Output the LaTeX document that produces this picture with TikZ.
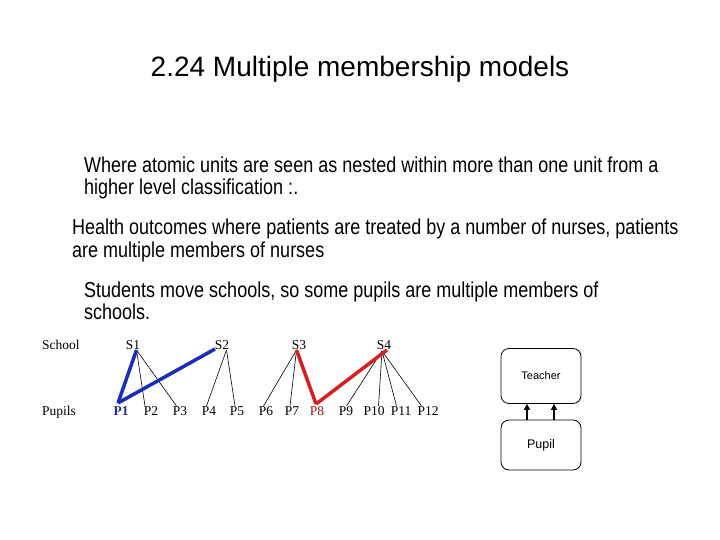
\documentclass[tikz,border=0pt]{standalone}
\usepackage{fontspec}
\setmainfont{Liberation Serif}
\newfontfamily\arialf{Liberation Sans}
\usetikzlibrary{arrows.meta}
\definecolor{tblue}{RGB}{25,45,185}
\definecolor{tred}{RGB}{215,30,35}
\definecolor{pblue}{RGB}{30,50,140}
\definecolor{pred}{RGB}{160,25,25}
\newcommand{\tallline}[1]{\scalebox{1}[1.2]{#1}}
\begin{document}
\begin{tikzpicture}[x=1pt,y=-1pt,
  para/.style={anchor=base west,inner sep=0,font=\arialf\fontsize{18}{22}\selectfont},
  lvl/.style={anchor=base west,inner sep=0,font=\fontsize{13.5}{15}\selectfont},
  lab/.style={anchor=base,inner sep=0,font=\fontsize{13.5}{15}\selectfont},
  thin/.style={black,line width=0.6pt},
  blueln/.style={tblue,line width=3.5pt},
  redln/.style={tred,line width=3.5pt},
  rbox/.style={draw,rounded corners=8pt,line width=0.8pt,minimum width=80pt,inner sep=0},
  arr/.style={line width=2pt,-{Triangle[length=6pt,width=6pt]}}]
\useasboundingbox (0,0) rectangle (720,540);
\node[anchor=base,inner sep=0,font=\arialf\fontsize{28}{30}\selectfont] (title) at (360,77) {2.24 Multiple membership models};
\node[para] (p1a) at (84,173) {\tallline{Where atomic units are seen as nested within more than one unit from a}};
\node[para] (p1b) at (84,195) {\tallline{higher level classification :.}};
\node[para] (p2a) at (72,235) {\tallline{Health outcomes where patients are treated by a number of nurses, patients}};
\node[para] (p2b) at (72,257) {\tallline{are multiple members of nurses}};
\node[para] (p3a) at (84,297) {\tallline{Students move schools, so some pupils are multiple members of}};
\node[para] (p3b) at (84,319) {\tallline{schools.}};
% levels
\node[lvl] (school) at (42,349) {School};
\node[lvl] (pupils) at (42,415) {Pupils};
\node[lab] (S1) at (133,349) {S1};
\node[lab] (S2) at (222,349) {S2};
\node[lab] (S3) at (299,349) {S3};
\node[lab] (S4) at (384,349) {S4};
\node[lab,font=\bfseries\fontsize{13.5}{15}\selectfont,text=pblue] (P1) at (121,415) {P1};
\node[lab] (P2) at (151,415) {P2};
\node[lab] (P3) at (180,415) {P3};
\node[lab] (P4) at (209,415) {P4};
\node[lab] (P5) at (237,415) {P5};
\node[lab] (P6) at (266,415) {P6};
\node[lab] (P7) at (292,415) {P7};
\node[lab,text=pred] (P8) at (317,415) {P8};
\node[lab] (P9) at (346,415) {P9};
\node[lab] (P10) at (374,415) {P10};
\node[lab] (P11) at (401,415) {P11};
\node[lab] (P12) at (428,415) {P12};
% apexes and tops
\coordinate (a1) at (136.5,350);
\coordinate (a2) at (226.5,350);
\coordinate (a3) at (296.5,350);
\coordinate (a4) at (382,351);
\coordinate (t1) at (118,403);
\coordinate (t2) at (145,406);
\coordinate (t3) at (176.5,406);
\coordinate (t4) at (206.5,406);
\coordinate (t5) at (235,406);
\coordinate (t6) at (263.5,406);
\coordinate (t7) at (290,406);
\coordinate (t8) at (316,404);
\coordinate (t9) at (346.5,406);
\coordinate (t10) at (378.5,406);
\coordinate (t11) at (396.5,406);
\coordinate (t12) at (421.5,406);
\coordinate (b2) at (215,349);
\coordinate (r4) at (387,350);
\draw[thin] (a1) -- (t2);
\draw[thin] (a1) -- (t3);
\draw[thin] (a2) -- (t4);
\draw[thin] (a2) -- (t5);
\draw[thin] (a3) -- (t6);
\draw[thin] (a3) -- (t7);
\draw[thin] (a4) -- (t9);
\draw[thin] (a4) -- (t10);
\draw[thin] (a4) -- (t11);
\draw[thin] (a4) -- (t12);
\draw[blueln] (a1) -- (t1);
\draw[blueln] (t1) -- (b2);
\draw[redln] (a3) -- (t8);
\draw[redln] (t8) -- (r4);
% boxes
\node[rbox,minimum height=55pt,font=\arialf\fontsize{11}{13}\selectfont] (teacher) at (541,376) {Teacher};
\node[rbox,minimum height=50pt,font=\arialf\fontsize{12.5}{14}\selectfont] (pupil) at (541,445) {\raisebox{-3pt}{Pupil}};
\draw[arr] (pupil.north -| 527,0) -- (teacher.south -| 527,0);
\draw[arr] (pupil.north -| 554,0) -- (teacher.south -| 554,0);
\end{tikzpicture}
\end{document}
